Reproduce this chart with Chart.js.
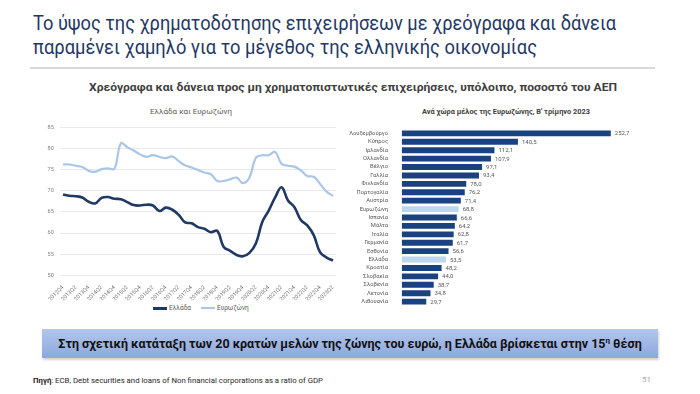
<!DOCTYPE html>
<html>
<head>
<meta charset="utf-8">
<script src="https://cdn.jsdelivr.net/npm/chart.js@4.4.0/dist/chart.umd.min.js"></script>
<style>
  html, body { margin:0; padding:0; background:#fff; }
  body { width:700px; height:394px; position:relative; overflow:hidden; font-family: Roboto, "Noto Sans", sans-serif; }
  .abs { position:absolute; white-space:nowrap; }
  .fit { display:inline-block; transform-origin:left center; }
  #t1, #t2 { left:33px; font-size:19.5px; color:#1F3864; line-height:24px; }
  #t1 { top:12px; }
  #t2 { top:36px; }
  #rule { left:30px; top:67px; width:625px; height:2px; background:#d9d9d9; }
  #sub { left:89px; top:80px; font-size:11.5px; font-weight:bold; color:#404040; line-height:14px; }
  #lt { top:107px; font-size:7px; color:#595959; line-height:10px; }
  #rt { top:107px; font-size:7px; color:#404040; font-weight:bold; line-height:10px; }
  #leg { top:303px; left:153px; font-size:6.5px; color:#595959; line-height:10px; }
  .ll { display:inline-block; width:14px; height:2px; vertical-align:middle; margin-right:2px; }
  #box { left:42px; top:329px; width:616px; height:29px; background:linear-gradient(#B3C7EC, #8CA7DD); box-shadow:1px 2px 2px rgba(0,0,0,0.18); }
  #boxt { left:42px; top:329px; width:616px; height:29px; line-height:29px; text-align:center; font-size:12.5px; font-weight:bold; color:#111; }
  #boxt sup { font-size:8px; vertical-align:5px; line-height:0; }
  #src { left:33px; top:376px; font-size:7.5px; color:#262626; line-height:10px; }
  #pg { left:642px; top:375px; font-size:8px; color:#a6a6a6; line-height:10px; }
  canvas { position:absolute; }
</style>
</head>
<body>
<div class="abs" id="t1"><span class="fit" data-w="583">Το ύψος της χρηματοδότησης επιχειρήσεων με χρεόγραφα και δάνεια</span></div>
<div class="abs" id="t2"><span class="fit" data-w="504">παραμένει χαμηλό για το μέγεθος της ελληνικής οικονομίας</span></div>
<div class="abs" id="rule"></div>
<div class="abs" id="sub"><span class="fit" data-w="528">Χρεόγραφα και δάνεια προς μη χρηματοπιστωτικές επιχειρήσεις, υπόλοιπο, ποσοστό του ΑΕΠ</span></div>
<div class="abs" id="lt" style="left:150px;"><span class="fit" data-w="82">Ελλάδα και Ευρωζώνη</span></div>
<div class="abs" id="rt" style="left:422px;"><span class="fit" data-w="168">Ανά χώρα μέλος της Ευρωζώνης, Β' τρίμηνο 2023</span></div>
<div class="abs" id="leg"><span class="ll" style="background:#1F3864;height:2.5px;"></span>Ελλάδα<span style="display:inline-block;width:10px;"></span><span class="ll" style="background:#A9C6E8;"></span>Ευρωζώνη</div>

<canvas id="lineChart" width="330" height="190" style="left:15px;top:118px;width:330px;height:190px;"></canvas>
<canvas id="barChart" width="300" height="195" style="left:340px;top:120px;width:300px;height:195px;"></canvas>

<div class="abs" id="box"></div>
<div class="abs" id="boxt">Στη σχετική κατάταξη των 20 κρατών μελών της ζώνης του ευρώ, η Ελλάδα βρίσκεται στην 15<sup>η</sup> θέση</div>
<div class="abs" id="src"><span class="fit" data-w="290"><b>Πηγή</b>: ECB, Debt securities and loans of Non financial corporations as a ratio of GDP</span></div>
<div class="abs" id="pg">51</div>

<script>
// ---- Data: left line chart ----
const quarters = [
  "2012Q4","2013Q1","2013Q2","2013Q3","2013Q4","2014Q1","2014Q2","2014Q3","2014Q4",
  "2015Q1","2015Q2","2015Q3","2015Q4","2016Q1","2016Q2","2016Q3","2016Q4",
  "2017Q1","2017Q2","2017Q3","2017Q4","2018Q1","2018Q2","2018Q3","2018Q4",
  "2019Q1","2019Q2","2019Q3","2019Q4","2020Q1","2020Q2","2020Q3","2020Q4",
  "2021Q1","2021Q2","2021Q3","2021Q4","2022Q1","2022Q2","2022Q3","2022Q4",
  "2023Q1","2023Q2"
];
const greece = [
  69.1,68.8,68.7,68.4,67.4,67.0,68.3,68.5,68.1,
  68.0,67.3,66.6,66.5,66.7,66.5,65.2,66.0,
  65.5,64.3,62.5,62.3,61.4,61.0,60.2,60.5,
  56.7,55.8,54.8,54.5,55.3,57.5,62.6,65.3,
  68.4,70.8,67.7,66.1,63.1,61.8,59.5,55.4,
  54.2,53.5
];
const eurozone = [
  76.2,76.2,75.9,75.6,74.7,74.5,75.1,75.3,75.2,
  81.2,80.3,79.5,78.6,78.0,78.4,78.0,77.7,
  78.1,77.0,76.0,75.5,74.9,74.3,73.9,72.3,
  72.3,72.7,73.1,71.8,73.1,77.8,78.4,78.4,
  79.2,76.4,75.9,75.7,74.8,73.5,73.3,71.6,
  69.8,68.8
];
const seriesNames = ["Ελλάδα", "Ευρωζώνη"];

// ---- Data: right bar chart ----
const countries = [
  "Λουξεμβούργο","Κύπρος","Ιρλανδία","Ολλανδία","Βέλγιο","Γαλλία","Φινλανδία",
  "Πορτογαλία","Αυστρία","Ευρωζώνη","Ισπανία","Μάλτα","Ιταλία","Γερμανία",
  "Εσθονία","Ελλάδα","Κροατία","Σλοβακία","Σλοβενία","Λετονία","Λιθουανία"
];
const countryValues = [
  252.7,140.5,112.1,107.9,97.1,93.4,78.0,
  76.2,71.4,68.8,66.6,64.2,62.8,61.7,
  56.6,53.5,48.2,44.0,38.7,34.8,29.7
];
const highlighted = ["Ευρωζώνη","Ελλάδα"];

// fit texts
document.querySelectorAll('.fit').forEach(el => {
  const w = el.getBoundingClientRect().width;
  const target = parseFloat(el.dataset.w);
  if (w > 0) el.style.transform = 'scaleX(' + (target / w) + ')';
});

Chart.defaults.font.family = 'Roboto, "Noto Sans", sans-serif';
Chart.defaults.animation = false;

new Chart(document.getElementById('lineChart'), {
  type: 'line',
  data: {
    labels: quarters,
    datasets: [
      { label: seriesNames[0], data: greece, borderColor: '#1F3864', borderWidth: 2.6, pointRadius: 0, tension: 0.4, fill: false },
      { label: seriesNames[1], data: eurozone, borderColor: '#A9C6E8', borderWidth: 2.2, pointRadius: 0, tension: 0.4, fill: false }
    ]
  },
  options: {
    responsive: false,
    layout: { padding: { top: 7, right: 8.8, bottom: 7.7, left: 0 } },
    plugins: { legend: { display: false }, tooltip: { enabled: false } },
    scales: {
      x: {
        offset: true,
        grid: { display: false },
        border: { display: false },
        afterFit: s => { s.height = 25; },
        ticks: {
          autoSkip: false, maxRotation: 45, minRotation: 45, padding: 1,
          color: '#7f7f7f', font: { size: 5.5 },
          callback: function(v, i) { return i % 2 === 0 ? quarters[i] : ''; }
        }
      },
      y: {
        min: 50, max: 85,
        afterFit: s => { s.width = 44.8; },
        grid: { color: '#e3e3e3', lineWidth: 0.8, drawTicks: false },
        border: { display: false },
        ticks: { stepSize: 5, padding: 6, color: '#7f7f7f', font: { size: 5.5 } }
      }
    }
  }
});

const valueLabels = {
  id: 'valueLabels',
  afterDatasetsDraw(chart) {
    const ctx = chart.ctx;
    const meta = chart.getDatasetMeta(0);
    ctx.save();
    ctx.font = '6px Roboto, "Noto Sans", sans-serif';
    ctx.fillStyle = '#595959';
    ctx.textBaseline = 'middle';
    ctx.textAlign = 'left';
    meta.data.forEach((bar, i) => {
      const txt = countryValues[i].toFixed(1).replace('.', ',');
      ctx.fillText(txt, bar.x + 4, bar.y + 0.5);
    });
    ctx.restore();
  }
};

new Chart(document.getElementById('barChart'), {
  type: 'bar',
  data: {
    labels: countries,
    datasets: [{
      data: countryValues,
      backgroundColor: countries.map(c => highlighted.includes(c) ? '#BDD7EE' : '#1B4280'),
      barPercentage: 0.7,
      categoryPercentage: 1
    }]
  },
  options: {
    indexAxis: 'y',
    responsive: false,
    layout: { padding: { top: 6.6, right: 0, bottom: 3.9, left: 0 } },
    plugins: { legend: { display: false }, tooltip: { enabled: false } },
    scales: {
      x: { display: false, min: 0, max: 288 },
      y: {
        afterFit: s => { s.width = 61.7; },
        grid: { display: false },
        border: { display: false },
        ticks: { autoSkip: false, padding: 5.7, color: '#595959', font: { size: 5.8 } }
      }
    }
  },
  plugins: [valueLabels]
});
</script>
</body>
</html>
